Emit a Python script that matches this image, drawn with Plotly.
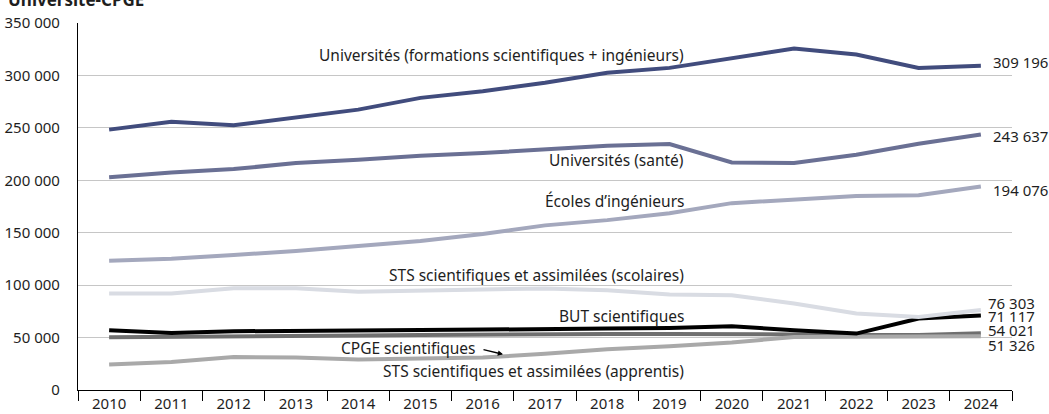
import plotly.graph_objects as go

years = [str(y) for y in range(2010, 2025)]

univ_sci = [248300, 255900, 252400, 259500, 267400, 278600, 284900, 293000, 302500, 307200, 316800, 325700, 320000, 307200, 309196]
univ_sante = [203000, 207500, 210700, 216400, 219600, 223400, 226000, 229500, 233000, 234600, 217000, 216400, 224400, 234900, 243637]
ecoles = [123300, 125200, 128800, 132600, 137400, 142200, 148800, 157000, 162000, 168600, 178200, 182000, 185000, 185800, 194076]
sts_scol = [92100, 92100, 97100, 97100, 93600, 95200, 95900, 96800, 95200, 91100, 90400, 82500, 72900, 69700, 76303]
but = [57000, 54400, 56000, 56700, 57000, 57300, 57600, 57800, 58600, 59200, 60800, 57000, 53800, 68200, 71117]
cpge = [50300, 50500, 51000, 51500, 52000, 52500, 53000, 53200, 53500, 53500, 53500, 53000, 52500, 52500, 54021]
sts_app = [24200, 26700, 31500, 30900, 29000, 29900, 30900, 34500, 38800, 41700, 45200, 50600, 50600, 51000, 51326]

series = [
    ("Universités (formations scientifiques + ingénieurs)", univ_sci, "#414c7d"),
    ("Universités (santé)", univ_sante, "#6a7094"),
    ("Écoles d’ingénieurs", ecoles, "#a4a8bd"),
    ("CPGE scientifiques", cpge, "#6f6f6f"),
    ("STS scientifiques et assimilées (apprentis)", sts_app, "#a9a9a9"),
    ("BUT scientifiques", but, "#000000"),
    ("STS scientifiques et assimilées (scolaires)", sts_scol, "#d9dce3"),
]

inline_labels = [
    ("Universités (formations scientifiques + ingénieurs)", 319900),
    ("Universités (santé)", 219400),
    ("Écoles d’ingénieurs", 180600),
    ("STS scientifiques et assimilées (scolaires)", 109600),
    ("BUT scientifiques", 70600),
    ("STS scientifiques et assimilées (apprentis)", 18100),
]
end_labels = [
    ("309 196", 312900), ("243 637", 242400), ("194 076", 190800),
    ("76 303", 83100), ("71 117", 70400), ("54 021", 57000), ("51 326", 42600),
]
ytick_vals = [0, 50000, 100000, 150000, 200000, 250000, 300000, 350000]
ytick_text = ["0", "50 000", "100 000", "150 000", "200 000", "250 000", "300 000", "350 000"]

FONT = "Noto Sans"
FS = 15
TXT = "#1e1e1e"
fig = go.Figure()
for name, vals, col in series:
    fig.add_trace(go.Scatter(x=years, y=vals, mode="lines", name=name,
                             line=dict(color=col, width=4), showlegend=False))

ann = []
for txt, yv in inline_labels:
    ann.append(dict(x=(686 - 78) / 934, y=yv, xref="paper", yref="y", text=txt, showarrow=False,
                    xanchor="right", yanchor="middle", font=dict(size=15.5, color=TXT)))
ann.append(dict(x=(478 - 78) / 934, y=40400, xref="paper", yref="y", text="CPGE scientifiques",
                showarrow=False, xanchor="right", yanchor="middle", font=dict(size=15.5, color=TXT)))
ann.append(dict(x=(503 - 78) / 934, y=(389.6 - 354) * 956, xref="paper", yref="y", text="",
                showarrow=True, arrowhead=2, arrowsize=0.8, arrowwidth=1.3, arrowcolor="#000",
                ax=-21, ay=-5))
for i, (txt, yv) in enumerate(end_labels):
    xpx = 991 if i < 3 else 986
    ann.append(dict(x=(xpx - 78) / 934, y=yv, xref="paper", yref="y", text=txt, showarrow=False,
                    xanchor="left", yanchor="middle", font=dict(size=FS, color=TXT)))

fig.update_layout(
    width=1049, height=414,
    margin=dict(l=78, r=37, t=23, b=24, pad=0),
    plot_bgcolor="white", paper_bgcolor="white",
    font=dict(family=FONT, size=FS, color=TXT),
    title=dict(text="<b>Université-CPGE</b>", x=8 / 1049, xref="container", xanchor="left",
               y=1.0, yref="container", yanchor="middle", pad=dict(t=0, b=0, l=0, r=0),
               font=dict(size=17, color=TXT, family=FONT)),
    annotations=ann,
    xaxis=dict(type="category", tickson="boundaries", ticks="outside", ticklen=10,
               tickcolor="#000", tickwidth=1.2, showline=True, linecolor="#000", linewidth=1.2,
               showgrid=False, tickfont=dict(size=FS), range=[-0.5, 14.5], automargin=False),
    yaxis=dict(range=[0, 350000], tickvals=ytick_vals, ticktext=ytick_text, showline=True,
               linecolor="#000", linewidth=1.2, showgrid=True, gridcolor="#c6c6c6", gridwidth=1,
               zeroline=False, ticks="", ticklabelstandoff=14, tickfont=dict(size=FS),
               automargin=False),
)
fig.write_html("out.html", config={"displayModeBar": False},
               post_script="document.body.style.margin='0';document.body.style.overflow='hidden';")
